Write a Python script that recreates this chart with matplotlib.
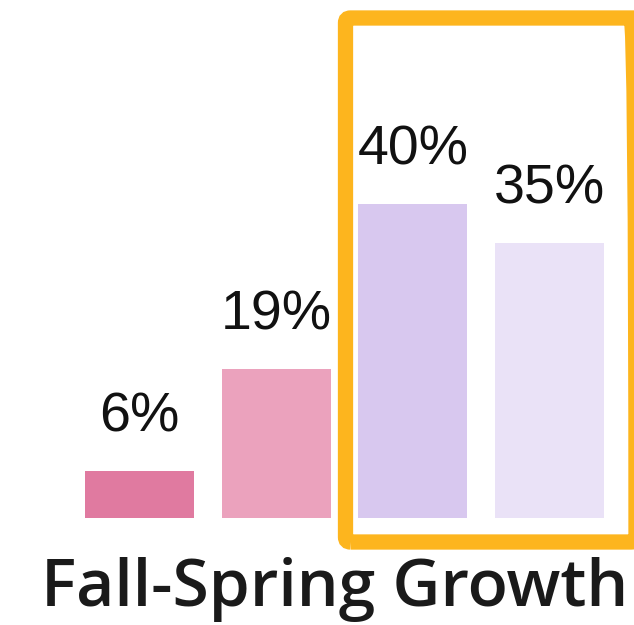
import matplotlib
matplotlib.use("Agg")
import matplotlib.pyplot as plt
from matplotlib.patches import FancyBboxPatch

W, H = 634, 625

categories = ["A", "B", "C", "D"]
values = [6, 19, 40, 35]
labels = ["6%", "19%", "40%", "35%"]
colors = ["#E07AA0", "#EBA2BD", "#D8C8EF", "#EAE2F7"]
title = "Fall-Spring Growth"

fig = plt.figure(figsize=(W / 100, H / 100), dpi=100)
fig.patch.set_facecolor("white")

# baseline at y=518 px, 1% ~ 7.86 px, bar pitch ~136.7 px
ax = fig.add_axes([0, (H - 518) / H, 1, 518 / H])
ax.set_xlim(-139.5 / 136.7, (W - 139.5) / 136.7)
ax.set_ylim(0, 518 / 7.86)
ax.axis("off")

x = range(len(values))
ax.bar(x, values, width=109 / 136.7, color=colors)
for xi, v, lab in zip(x, values, labels):
    ax.text(xi, v + 5.0, lab, ha="center", va="baseline",
            fontsize=40, family="Liberation Sans", color="#111111")

# highlight frame around the last two bars
box = FancyBboxPatch((345.5 / W, (H - 542) / H), (636 - 345.5) / W, (542 - 18) / H,
                     boxstyle="round,pad=0,rounding_size=0.008",
                     transform=fig.transFigure, fill=False,
                     edgecolor="#FDB51E", linewidth=11, zorder=5)
fig.patches.append(box)

fig.text(335 / W, (H - 606) / H, title, ha="center", va="baseline",
         fontsize=47.5, family="Open Sans", fontweight="semibold", color="#1a1a1a")

fig.savefig("out.png", dpi=100)
